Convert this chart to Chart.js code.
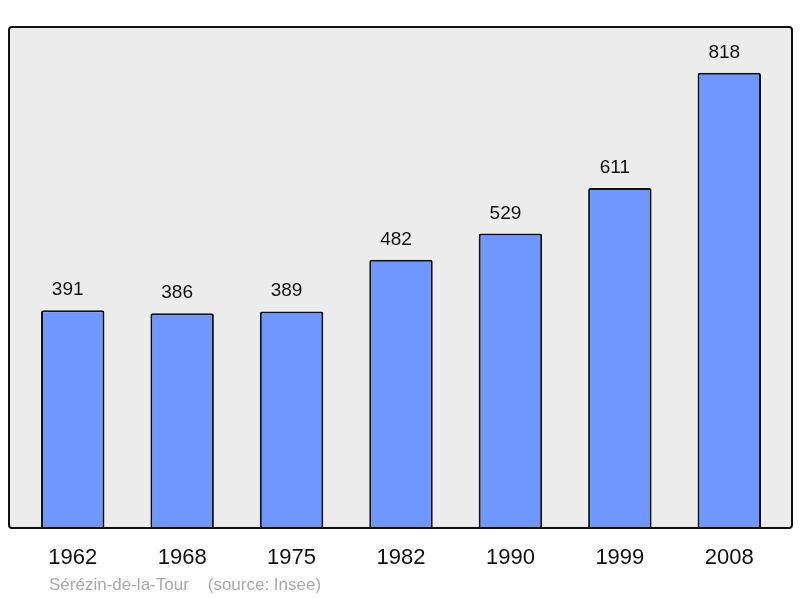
<!DOCTYPE html>
<html>
<head>
<meta charset="utf-8">
<script src="https://cdn.jsdelivr.net/npm/chart.js@4/dist/chart.umd.min.js"></script>
<style>
  html, body { margin: 0; padding: 0; background: #fff; }
  #wrap { width: 800px; height: 598px; position: relative; }
</style>
</head>
<body>
<div id="wrap"><canvas id="popChart"></canvas></div>
<script>
const years = ['1962', '1968', '1975', '1982', '1990', '1999', '2008'];
const population = [391, 386, 389, 482, 529, 611, 818];
const yMax = 900;
const sourceText = 'Sérézin-de-la-Tour    (source: Insee)';

// grey frame behind the bars, a bit wider than the category area
const framePlugin = {
    id: 'frame',
    beforeDatasetsDraw(chart) {
        const { ctx, chartArea } = chart;
        ctx.save();
        ctx.fillStyle = '#ececec';
        ctx.beginPath();
        ctx.roundRect(9, chartArea.top, 783, chartArea.bottom - chartArea.top, 3);
        ctx.fill();
        ctx.restore();
    },
    afterDatasetsDraw(chart) {
        const { ctx, chartArea } = chart;
        ctx.save();
        ctx.strokeStyle = '#111';
        ctx.lineWidth = 2;
        ctx.beginPath();
        ctx.roundRect(9, chartArea.top, 783, chartArea.bottom - chartArea.top, 3);
        ctx.stroke();

        // value labels above each bar
        ctx.fillStyle = '#111';
        ctx.font = '19px "Liberation Sans", Arial, sans-serif';
        ctx.textAlign = 'center';
        ctx.textBaseline = 'alphabetic';
        chart.getDatasetMeta(0).data.forEach((bar, i) => {
            ctx.fillText(population[i], bar.x - 5, bar.y - 15);
        });

        // source line
        ctx.fillStyle = '#aaaaaa';
        ctx.font = '17px "Liberation Sans", Arial, sans-serif';
        ctx.textAlign = 'left';
        ctx.fillText(sourceText, 49, 590);
        ctx.restore();
    }
};

new Chart(document.getElementById('popChart'), {
    type: 'bar',
    data: {
        labels: years,
        datasets: [{
            data: population,
            backgroundColor: '#7096ff',
            borderColor: '#111',
            borderWidth: 2,
            borderRadius: 2,
            borderSkipped: 'bottom',
            categoryPercentage: 1,
            barPercentage: 0.58
        }]
    },
    options: {
        responsive: true,
        maintainAspectRatio: false,
        animation: false,
        layout: { padding: { left: 18, right: 16, top: 27, bottom: 0 } },
        plugins: {
            legend: { display: false },
            tooltip: { enabled: false }
        },
        scales: {
            x: {
                grid: { display: false },
                border: { display: false },
                ticks: {
                    color: '#111',
                    padding: 9,
                    font: { size: 22, family: '"Liberation Sans", Arial, sans-serif' }
                },
                afterFit(scale) { scale.height = 70; }
            },
            y: {
                display: false,
                min: 0,
                max: yMax
            }
        }
    },
    plugins: [framePlugin]
});
</script>
</body>
</html>
